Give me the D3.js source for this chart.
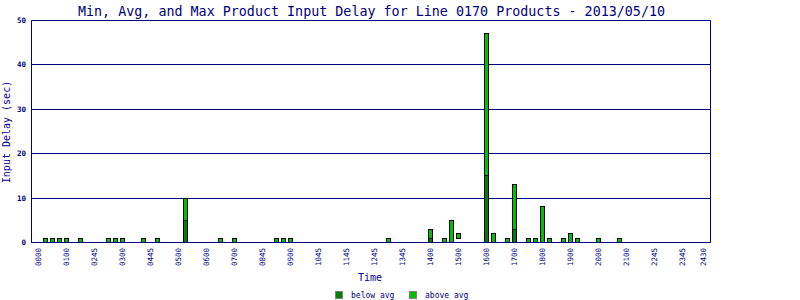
<!DOCTYPE html>
<html><head><meta charset="utf-8">
<script src="https://cdn.jsdelivr.net/npm/d3@7"></script>
<style>body{margin:0;background:#fff}svg{display:block}</style>
</head><body>
<svg id="c" width="800" height="300"></svg>
<script>
// ---- data ----
const title = "Min, Avg, and Max Product Input Delay for Line 0170 Products - 2013/05/10";
const yTicks = [0, 10, 20, 30, 40, 50];
const tickLabels = ["0000","0100","0245","0300","0445","0500","0600","0700","0845","0900","1045","1145","1245","1345","1400","1500","1600","1700","1800","1900","2000","2100","2245","2345","2430"];
const tickSlots  = [0,4,8,12,16,20,24,28,32,36,40,44,48,52,56,60,64,68,72,76,80,84,88,92,95];
const barSlots = [1,2,3,4,6,10,11,12,15,17,21,26,28,34,35,36,50,56,58,59,60,64,65,67,68,70,71,72,73,75,76,77,80,83];
const minVals  = [0,0,0,0,0,0,0,0,0,0,0,0,0,0,0,0,0,0,0,0,1,0,0,0,0,0,0,0,0,0,0,0,0,0];
const avgVals  = [0,0,0,0,0,0,0,0,0,0,5,0,0,0,0,0,0,1,0,0,1,15,0,0,3,0,0,0,0,0,0,0,0,0];
const maxVals  = [1,1,1,1,1,1,1,1,1,1,10,1,1,1,1,1,1,3,1,5,2,47,2,1,13,1,1,8,1,1,2,1,1,1];
const seriesNames = ["below avg", "above avg"];
const seriesColors = ["#008000", "#00c000"];

// ---- drawing ----
const svg = d3.select("#c");
const navy = "#000080";
const x = d3.scaleLinear().domain([-1, 96]).range([31.7, 710.7]);
const y = d3.scaleLinear().domain([0, 50]).range([242.5, 20.5]);
const py = v => Math.floor(y(v)) + 0.5;
const L = 31.5, R = 710.5;

// gridlines
svg.append("g").selectAll("line").data(yTicks).join("line")
  .attr("x1", L).attr("x2", R).attr("y1", d => py(d)).attr("y2", d => py(d))
  .attr("stroke", navy).attr("stroke-width", 1);
// frame sides
svg.append("line").attr("x1", L).attr("x2", L).attr("y1", py(50)).attr("y2", py(0)).attr("stroke", navy);
svg.append("line").attr("x1", R).attr("x2", R).attr("y1", py(50)).attr("y2", py(0)).attr("stroke", navy);

// y tick labels
svg.append("g").selectAll("text").data(yTicks).join("text")
  .attr("x", 26).attr("y", d => py(d)).attr("dy", "0.35em")
  .attr("text-anchor", "end").attr("font-family", "DejaVu Sans Mono").attr("font-weight", "bold")
  .attr("font-size", 7.5).attr("fill", navy).text(d => d);

// x tick labels
svg.append("g").selectAll("text").data(tickLabels).join("text")
  .attr("transform", (d, i) => `translate(${x(tickSlots[i])},248) rotate(-90)`)
  .attr("dy", "0.35em").attr("text-anchor", "end")
  .attr("font-family", "DejaVu Sans Mono").attr("font-size", 7.5).attr("fill", navy).text(d => d);

// bars
const bars = barSlots.map((s, i) => ({s, min: minVals[i], avg: avgVals[i], max: maxVals[i]}));
const bx = d => Math.floor(x(d.s) - 2.5) + 0.5;
const g = svg.append("g");
bars.forEach(d => {
  if (d.avg > d.min) {
    g.append("rect").attr("x", bx(d)).attr("width", 4)
      .attr("y", py(d.avg)).attr("height", py(d.min) - py(d.avg))
      .attr("fill", seriesColors[0]).attr("stroke", "#000").attr("stroke-width", 1);
  }
  if (d.max > d.avg) {
    g.append("rect").attr("x", bx(d)).attr("width", 4)
      .attr("y", py(d.max)).attr("height", py(d.avg) - py(d.max))
      .attr("fill", seriesColors[1]).attr("stroke", "#000").attr("stroke-width", 1);
  }
});
// bottom axis line on top
svg.append("line").attr("x1", L).attr("x2", R).attr("y1", py(0)).attr("y2", py(0)).attr("stroke", navy);

// title
svg.append("text").attr("x", 371.5).attr("y", 15.5).attr("text-anchor", "middle")
  .attr("font-family", "DejaVu Sans Mono").attr("font-size", 14)
  .attr("textLength", 587).attr("lengthAdjust", "spacingAndGlyphs")
  .attr("fill", navy).text(title);

// axis titles
svg.append("text").attr("transform", "translate(10,132) rotate(-90)").attr("text-anchor", "middle")
  .attr("font-family", "DejaVu Sans Mono").attr("font-size", 10).attr("fill", "#0000a0")
  .text("Input Delay (sec)");
svg.append("text").attr("x", 370).attr("y", 281).attr("text-anchor", "middle")
  .attr("font-family", "DejaVu Sans Mono").attr("font-size", 10).attr("fill", "#0000a0").text("Time");

// legend
const legX = [335, 409];
seriesNames.forEach((n, i) => {
  svg.append("rect").attr("x", legX[i] + 0.5).attr("y", 291.5).attr("width", 7).attr("height", 7)
    .attr("fill", seriesColors[i]).attr("stroke", "#808080");
  svg.append("text").attr("x", legX[i] + 16).attr("y", 297.5)
    .attr("font-family", "DejaVu Sans Mono").attr("font-size", 8).attr("fill", navy).text(n);
});
</script>
</body></html>
